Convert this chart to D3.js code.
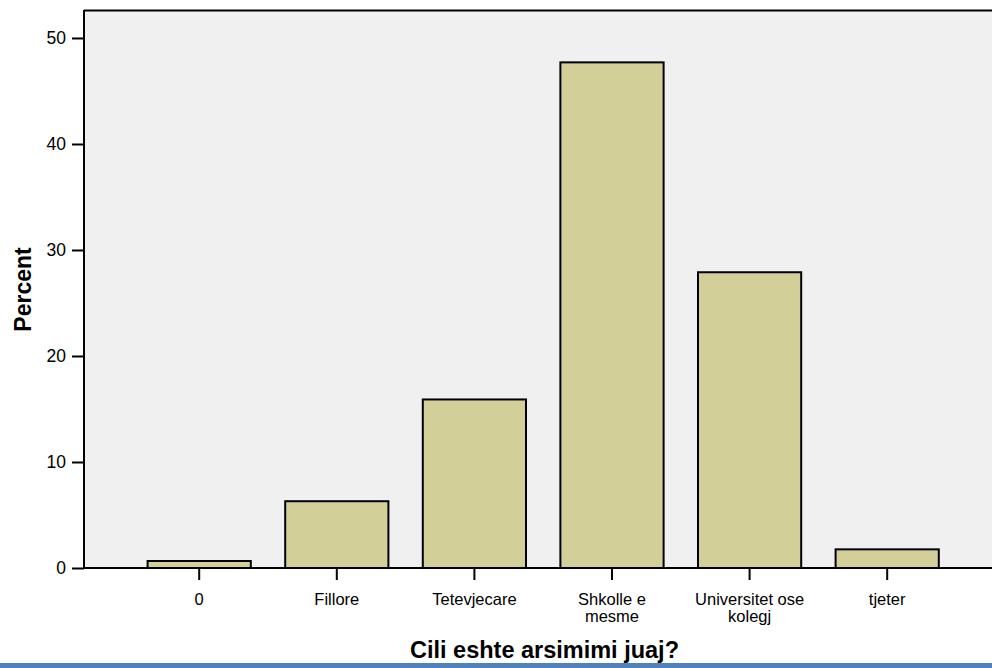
<!DOCTYPE html>
<html>
<head>
<meta charset="utf-8">
<script src="https://cdn.jsdelivr.net/npm/d3@7"></script>
<style>
  html, body { margin: 0; padding: 0; background: #fff; }
  svg { display: block; font-family: "Liberation Sans", Arial, sans-serif; }
</style>
</head>
<body>
<svg id="chart" width="992" height="668"></svg>
<script>
const categories = ["0", "Fillore", "Tetevjecare", "Shkolle e mesme", "Universitet ose kolegj", "tjeter"];
const categoryLines = [["0"], ["Fillore"], ["Tetevjecare"], ["Shkolle e", "mesme"], ["Universitet ose", "kolegj"], ["tjeter"]];
const percentValues = [0.66, 6.3, 15.9, 47.7, 27.9, 1.76];
const yTickValues = [0, 10, 20, 30, 40, 50];
const xAxisTitle = "Cili eshte arsimimi juaj?";
const yAxisTitle = "Percent";

const svg = d3.select("#chart");
const plot = { left: 84, top: 10, right: 992, bottom: 568 };
const fontFam = "'Liberation Sans', Arial, sans-serif";

// plot background
svg.append("rect")
  .attr("x", plot.left).attr("y", plot.top)
  .attr("width", plot.right - plot.left).attr("height", plot.bottom - plot.top)
  .attr("fill", "#f0f0f0");

const y = d3.scaleLinear().domain([0, 52.64]).range([plot.bottom, plot.top]);
const x = d3.scaleBand().domain(categories).range([130.4, 956]).paddingInner(0.25).paddingOuter(0.125);

// bars
svg.append("g").selectAll("rect")
  .data(categories)
  .join("rect")
  .attr("x", d => x(d))
  .attr("y", (d, i) => y(percentValues[i]))
  .attr("width", x.bandwidth())
  .attr("height", (d, i) => y(0) - y(percentValues[i]))
  .attr("fill", "#d3cf98")
  .attr("stroke", "#000")
  .attr("stroke-width", 2);

// frame: top and left borders
svg.append("line").attr("x1", plot.left).attr("x2", plot.right).attr("y1", plot.top + 0.5).attr("y2", plot.top + 0.5)
  .attr("stroke", "#000").attr("stroke-width", 2);
svg.append("line").attr("x1", plot.left).attr("x2", plot.left).attr("y1", plot.top).attr("y2", plot.bottom)
  .attr("stroke", "#000").attr("stroke-width", 2);

// y axis
const yAxis = d3.axisLeft(y).tickValues(yTickValues).tickSize(12).tickPadding(6).tickFormat(d3.format("d"));
const gy = svg.append("g").attr("transform", `translate(${plot.left},0)`).call(yAxis);
gy.select(".domain").remove();
gy.selectAll(".tick line").attr("stroke", "#000").attr("stroke-width", 2);
gy.selectAll(".tick text").attr("font-size", 17.5).attr("fill", "#000").attr("font-family", fontFam);

// x axis
const xAxis = d3.axisBottom(x).tickSize(12).tickFormat("");
const gx = svg.append("g").attr("transform", `translate(0,${plot.bottom})`).call(xAxis);
gx.select(".domain").remove();
gx.selectAll(".tick line").attr("stroke", "#000").attr("stroke-width", 2);
gx.selectAll(".tick").each(function(d, i) {
  const t = d3.select(this).append("text")
    .attr("text-anchor", "middle")
    .attr("font-size", 16.5)
    .attr("fill", "#000")
    .attr("font-family", fontFam);
  categoryLines[i].forEach((line, j) => {
    t.append("tspan").attr("x", 0).attr("y", 36.5 + j * 17.5).text(line);
  });
});
svg.append("line").attr("x1", plot.left).attr("x2", plot.right).attr("y1", plot.bottom).attr("y2", plot.bottom)
  .attr("stroke", "#000").attr("stroke-width", 2);

// axis titles
svg.append("text")
  .attr("transform", `translate(31,289.5) rotate(-90)`)
  .attr("text-anchor", "middle")
  .attr("font-size", 23).attr("font-weight", "bold").attr("fill", "#000").attr("font-family", fontFam)
  .text(yAxisTitle);
svg.append("text")
  .attr("x", 544.5).attr("y", 657.5)
  .attr("text-anchor", "middle")
  .attr("font-size", 23.5).attr("font-weight", "bold").attr("fill", "#000").attr("font-family", fontFam)
  .text(xAxisTitle);

// blue bottom band
svg.append("rect").attr("x", 0).attr("y", 663).attr("width", 992).attr("height", 5).attr("fill", "#4f81bd");
</script>
</body>
</html>
